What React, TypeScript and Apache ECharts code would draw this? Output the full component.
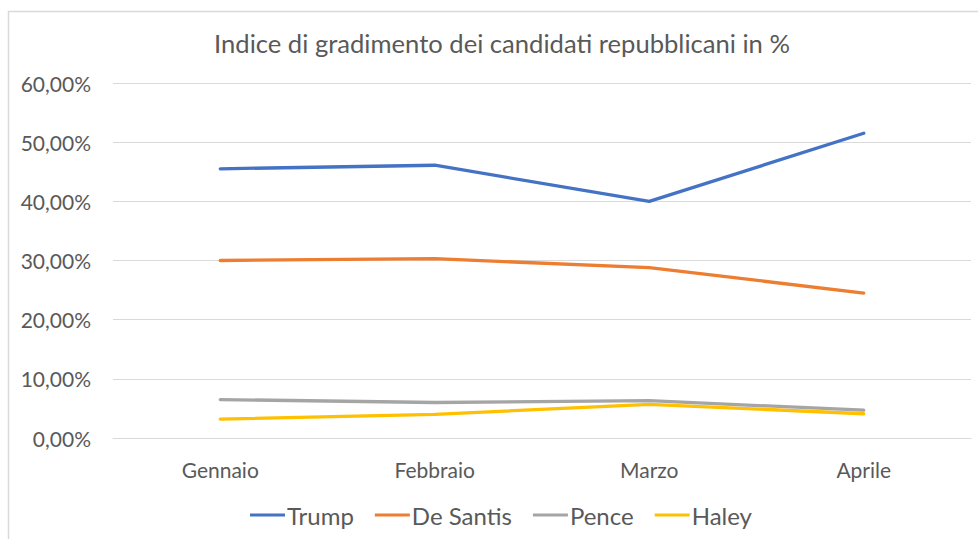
import React, { useEffect, useRef } from "react";
import * as echarts from "echarts";

const title = "Indice di gradimento dei candidati repubblicani in %";
const months = ["Gennaio", "Febbraio", "Marzo", "Aprile"];
const trump = [0.455, 0.461, 0.4, 0.515];
const deSantis = [0.3, 0.303, 0.288, 0.245];
const pence = [0.065, 0.06, 0.063, 0.047];
const haley = [0.032, 0.04, 0.057, 0.041];
const seriesNames = ["Trump", "De Santis", "Pence", "Haley"];
const colors = ["#4472C4", "#ED7D31", "#A5A5A5", "#FFC000"];

const FONT = "Lato";

export default function App() {
  const ref = useRef<HTMLDivElement>(null);
  useEffect(() => {
    if (!ref.current) return;
    const chart = echarts.init(ref.current, null, { renderer: "svg" });
    const data = [trump, deSantis, pence, haley];
    chart.setOption({
      animation: false,
      backgroundColor: "#ffffff",
      textStyle: { fontFamily: FONT },
      title: {
        text: title,
        left: 497,
        textAlign: "center",
        top: 25,
        textStyle: { fontFamily: FONT, fontSize: 25.6, fontWeight: "normal", color: "#595959" },
      },
      graphic: [
        {
          type: "rect",
          shape: { x: 8.5, y: 11.5, width: 980, height: 540 },
          style: { fill: "none", stroke: "#D9D9D9", lineWidth: 1.5 },
          silent: true,
        },
      ],
      legend: {
        top: 498,
        left: 245,
        itemWidth: 35,
        itemHeight: 3,
        itemGap: 21,
        icon: "rect",
        data: seriesNames,
        textStyle: { fontFamily: FONT, fontSize: 24, color: "#595959", padding: [0, 0, 0, -3] },
      },
      grid: { left: 113, right: 7, top: 83, bottom: 101, containLabel: false },
      xAxis: {
        type: "category",
        data: months,
        boundaryGap: true,
        axisLine: { show: true, lineStyle: { color: "#D9D9D9" } },
        axisTick: { show: false },
        axisLabel: { fontFamily: FONT, fontSize: 21, color: "#595959", margin: 21 },
      },
      yAxis: {
        type: "value",
        min: 0,
        max: 0.6,
        interval: 0.1,
        axisLine: { show: false },
        axisTick: { show: false },
        splitLine: { lineStyle: { color: "#D9D9D9", width: 1 } },
        axisLabel: {
          fontFamily: FONT,
          fontSize: 21,
          color: "#595959",
          margin: 22,
          formatter: (v: number) => (v * 100).toFixed(2).replace(".", ",") + "%",
        },
      },
      series: seriesNames.map((name, i) => ({
        name,
        type: "line",
        data: data[i],
        symbol: "none",
        lineStyle: { width: 3.3, color: colors[i], cap: "round", join: "round" },
        itemStyle: { color: colors[i] },
        z: 10 - i,
      })),
    });
    return () => chart.dispose();
  }, []);
  return (
    <div
      ref={ref}
      style={{ position: "fixed", left: 0, top: 0, width: 978, height: 539 }}
    />
  );
}
